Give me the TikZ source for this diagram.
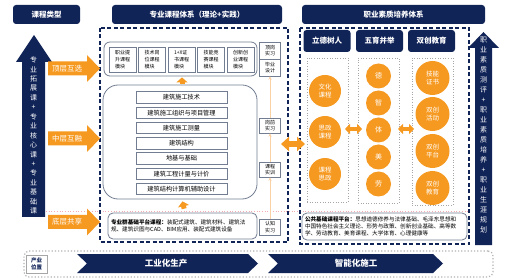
\documentclass[tikz,border=0pt]{standalone}
\usepackage{fontspec}
\setmainfont{Noto Sans CJK SC}
\usetikzlibrary{arrows.meta}
\definecolor{navy}{RGB}{17,36,88}
\definecolor{org}{RGB}{246,153,32}
\definecolor{lorg}{RGB}{250,208,165}
\definecolor{gbd}{RGB}{115,125,145}
\definecolor{pnk}{RGB}{242,172,178}
\newcommand\OrArr[3]{%
 \fill[org] (48,#1-7) -- (87,#1-7) -- (87,#1-13.5) -- (100,#1) -- (87,#1+13.5) -- (87,#1+7) -- (48,#1+7) -- cycle;
 \node[font=\fontsize{7.5}{9}\selectfont, text=white, inner sep=0pt] (#2) at (67,#1) {#3};}
\begin{document}
\begin{tikzpicture}[x=1pt,y=-1pt,
  hdr/.style={fill=navy, rounded corners=3pt, text=white, font=\bfseries\fontsize{7.5}{9}\selectfont, inner sep=0pt},
  modbox/.style={draw=gbd, line width=0.5pt, fill=white, minimum width=27pt, minimum height=25pt, align=left, font=\fontsize{5}{6.8}\selectfont, inner sep=1pt},
  crs/.style={draw=gbd, line width=0.5pt, fill=white, minimum width=91pt, minimum height=11.5pt, font=\fontsize{6.2}{7}\selectfont, inner sep=0pt},
  prac/.style={draw=gbd, line width=0.5pt, fill=white, minimum width=21pt, align=center, font=\fontsize{5}{6.5}\selectfont, inner sep=0pt},
  rbox/.style={draw=gbd, line width=0.8pt},
  colbox/.style={draw=gray!70, dotted, line width=0.6pt, inner sep=0pt},
  circ/.style={circle, fill=org, text=white, inner sep=0pt, align=center},
  upar/.style={org, line width=5pt, -{Triangle[length=5pt,width=11pt]}},
  lar/.style={lorg, line width=0.8pt, -{Stealth[length=3.5pt,width=3.2pt]}},
  dblar/.style={org, line width=6pt, {Triangle[length=8pt,width=14pt]}-{Triangle[length=8pt,width=14pt]}},
  smdbl/.style={org, line width=3.5pt, {Triangle[length=5pt,width=10pt]}-{Triangle[length=5pt,width=10pt]}},
  plat/.style={rbox, rounded corners=5pt, align=left, font=\fontsize{5.6}{7.2}\selectfont, inner sep=0pt},
  vtext/.style={text=white, align=center, font=\fontsize{7}{9.44}\selectfont, inner sep=0pt}
]
\useasboundingbox (0,0) rectangle (508,280);
\fill[white] (0,0) rectangle (508,280);

% pink dotted divider
\draw[pnk, dotted, line width=0.7pt] (46,211) -- (468,211);

% headers
\node[hdr, minimum width=67pt, minimum height=19pt] (hA) at (46.5,14.5) {课程类型};
\node[hdr, minimum width=170pt, minimum height=19pt] (hB) at (197,14.5) {专业课程体系（理论+实践）};
\node[hdr, minimum width=183pt, minimum height=19pt] (hC) at (393.5,14.5) {职业素质培养体系};

% left navy arrow
\fill[navy] (22,217) -- (22,62) -- (16,62) -- (34,35) -- (52,62) -- (45,62) -- (45,217) -- cycle;
\node[vtext] (lv) at (33.5,135.5) {专\\业\\拓\\展\\课\\+\\专\\业\\核\\心\\课\\+\\专\\业\\基\\础\\课};

% right navy arrow
\fill[navy] (475,245) -- (475,48) -- (468,48) -- (483.5,32) -- (499,48) -- (492,48) -- (492,245) -- cycle;
\node[vtext, font=\fontsize{7}{10}\selectfont] (rv) at (483.5,135) {职\\业\\素\\质\\测\\评\\+\\职\\业\\素\\质\\培\\养\\+\\职\\业\\生\\涯\\规\\划};

% dashed frames
\draw[navy, line width=1.1pt, dash pattern=on 4pt off 2.5pt] (100,28) rectangle (288,242);
\draw[navy, line width=1.1pt, dash pattern=on 4pt off 2.5pt] (300,28) rectangle (469,244);

% orange side arrows
\OrArr{68.5}{oa1}{顶层互选}
\OrArr{138.5}{oa2}{中层互融}
\OrArr{222}{oa3}{底层共享}

% top module box
\node[rbox, rounded corners=6pt, minimum width=153pt, minimum height=34pt] (topbox) at (180.5,59) {};
\node[modbox] (m1) at (122.5,59.5) {职业提\\升课程\\模块};
\node[modbox] (m2) at (152,59.5) {技术岗\\位课程\\模块};
\node[modbox] (m3) at (181.5,59.5) {1+X证\\书课程\\模块};
\node[modbox] (m4) at (211,59.5) {技能竞\\赛课程\\模块};
\node[modbox] (m5) at (240.5,59.5) {创新创\\业课程\\模块};

% core box
\node[rbox, rounded corners=15pt, minimum width=154pt, minimum height=114pt] (core) at (180,142) {};
\node[crs] (c1) at (181.5,97.5) {建筑施工技术};
\node[crs] (c2) at (181.5,112.75) {建筑施工组织与项目管理};
\node[crs] (c3) at (181.5,128) {建筑施工测量};
\node[crs] (c4) at (181.5,143.25) {建筑结构};
\node[crs] (c5) at (181.5,158.5) {地基与基础};
\node[crs] (c6) at (181.5,173.75) {建筑工程计量与计价};
\node[crs] (c7) at (181.5,189) {建筑结构计算机辅助设计};

% platform box left
\node[plat, minimum width=149pt, minimum height=26pt, text width=143pt] (platL) at (182.5,226) {\textbf{专业群基础平台课程：}装配式建筑、建筑材料、建筑法\\规、建筑识图与CAD、BIM应用、装配式建筑设备};

% practice boxes
\node[prac, minimum height=17pt] (p1) at (270,50.5) {顶岗\\实习};
\node[prac, minimum height=17pt] (p2) at (270,67.5) {毕业\\设计};
\node[prac, minimum height=15pt] (p3) at (270,125.5) {岗前\\实习};
\node[prac, minimum height=15pt] (p4) at (270,169.5) {课程\\实训};
\node[prac, minimum height=16pt] (p5) at (270,227) {认知\\实习};
\draw[lar] (p5.north) -- (p4.south);
\draw[lar] (p4.north) -- (p3.south);
\draw[lar] (p3.north) -- (p2.south);

% orange up arrows
\draw[upar, shorten <=1pt, shorten >=1pt] ([xshift=2pt]core.north) -- ([xshift=1.5pt]topbox.south);
\draw[upar, shorten <=4pt, shorten >=2pt] ([xshift=2.5pt]platL.north) -- ([xshift=2pt]core.south);

% big double arrow
\coordinate (dA) at (281,144);
\coordinate (dB) at (305,144);
\draw[dblar] (dA) -- (dB);

% right side sub headers
\node[hdr, minimum width=47pt, minimum height=22pt] (s1) at (327,41) {立德树人};
\node[hdr, minimum width=47pt, minimum height=22pt] (s2) at (379.5,41) {五育并举};
\node[hdr, minimum width=47pt, minimum height=22pt] (s3) at (431.5,41) {双创教育};

% column boxes
\node[colbox, minimum width=41pt, minimum height=144pt] (k1) at (327.5,130) {};
\node[colbox, minimum width=41pt, minimum height=145pt] (k2) at (378.5,130.5) {};
\node[colbox, minimum width=41pt, minimum height=147pt] (k3) at (432.5,131.5) {};

% circles column 1
\node[circ, minimum size=32pt, font=\fontsize{6.5}{8.5}\selectfont] (a1) at (325,91) {文化\\课程};
\node[circ, minimum size=32pt, font=\fontsize{6.5}{8.5}\selectfont] (a2) at (325,132) {思政\\课程};
\node[circ, minimum size=32pt, font=\fontsize{6.5}{8.5}\selectfont] (a3) at (325,174) {课程\\思政};
% column 2
\node[circ, minimum size=25pt, font=\fontsize{7}{8}\selectfont] (b1) at (378.5,76) {德};
\node[circ, minimum size=25pt, font=\fontsize{7}{8}\selectfont] (b2) at (378.5,103) {智};
\node[circ, minimum size=25pt, font=\fontsize{7}{8}\selectfont] (b3) at (378.5,130) {体};
\node[circ, minimum size=25pt, font=\fontsize{7}{8}\selectfont] (b4) at (378.5,157) {美};
\node[circ, minimum size=25pt, font=\fontsize{7}{8}\selectfont] (b5) at (378.5,184) {劳};
% column 3
\node[circ, minimum size=34pt, font=\fontsize{6.5}{8.5}\selectfont] (d1) at (432.5,78) {技能\\证书};
\node[circ, minimum size=34pt, font=\fontsize{6.5}{8.5}\selectfont] (d2) at (432.5,114) {双创\\活动};
\node[circ, minimum size=34pt, font=\fontsize{6.5}{8.5}\selectfont] (d3) at (432.5,151) {双创\\平台};
\node[circ, minimum size=34pt, font=\fontsize{6.5}{8.5}\selectfont] (d4) at (432.5,188) {双创\\教育};

% small double arrows
\coordinate (e1) at (345,129);
\coordinate (e2) at (362,129);
\coordinate (e3) at (398,129);
\coordinate (e4) at (414,129);
\draw[smdbl] (e1) -- (e2);
\draw[smdbl] (e3) -- (e4);

% platform box right
\node[plat, minimum width=165pt, minimum height=27pt, text width=159pt] (platR) at (384.5,226.5) {\textbf{公共基础课程平台：}思想道德修养与法律基础、毛泽东思想和\\中国特色社会主义理论、形势与政策、创新创业基础、高等数\\学、劳动教育、美育课程、大学体育、心理健康等};

% bottom band
\node[draw=gray!60, dotted, line width=1.2pt, rounded corners=5pt, minimum width=469pt, minimum height=26pt, inner sep=0pt] (band) at (258.5,264) {};
\node[draw=gray!70, line width=0.5pt, minimum width=21pt, minimum height=18pt, inner sep=0pt, align=center, text=navy, font=\bfseries\fontsize{5.5}{6.8}\selectfont] (pos) at (36.5,264) {产业\\位置};
\fill[navy] (77,254) -- (248,254) -- (258,263.5) -- (248,273) -- (77,273) -- (87,263.5) -- cycle;
\fill[navy] (268,254) -- (433,254) -- (443,263.5) -- (433,273) -- (268,273) -- (278,263.5) -- cycle;
\node[text=white, font=\bfseries\fontsize{8.5}{10}\selectfont, inner sep=0pt] (g1) at (166,263.5) {工业化生产};
\node[text=white, font=\bfseries\fontsize{8.5}{10}\selectfont, inner sep=0pt] (g2) at (356,263.5) {智能化施工};
\end{tikzpicture}
\end{document}
